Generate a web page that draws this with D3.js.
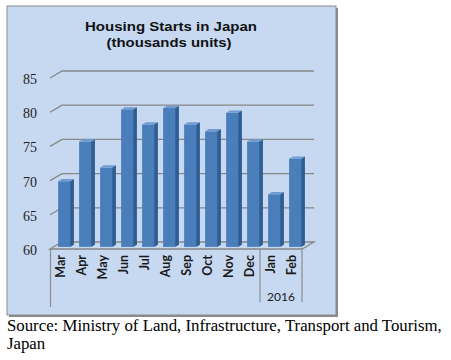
<html>
<head>
<title>Housing Starts</title>
<script src="https://d3js.org/d3.v7.min.js"></script>
<style>
body { margin: 0; background: #fff; }
svg { display: block; }
</style>
</head>
<body>
<svg id="chart" width="451" height="360"></svg>
<script type="text/javascript">
// data
var months = ["Mar", "Apr", "May", "Jun", "Jul", "Aug", "Sep", "Oct", "Nov", "Dec", "Jan", "Feb"];
var starts = [69.6, 75.4, 71.6, 80.1, 77.9, 80.3, 77.9, 76.9, 79.6, 75.4, 67.7, 72.9];
var yTicks = [60, 65, 70, 75, 80, 85];
var yearGroup = ["2016"];

// 3d depth of the plot box (front plane -> back wall)
var DX = 12, DY = -7;
var f1 = 0.3, f2 = 0.62;   // bar front / back as part of the depth

var svg = d3.select("#chart");

// chart box with shadow
svg.append("rect").attr("x", 9).attr("y", 8).attr("width", 329).attr("height", 309).attr("fill", "#8a8a8a");
svg.append("rect").attr("x", 7).attr("y", 6).attr("width", 329).attr("height", 309)
	.attr("fill", "#c6d9f1").attr("stroke", "#8c8c8c").attr("stroke-width", 1);

// title
svg.append("text").attr("x", 171).attr("y", 31).attr("text-anchor", "middle")
	.attr("font-family", "'Liberation Sans', Arial, sans-serif").attr("font-weight", "bold").attr("font-size", 12.5)
	.attr("textLength", 172).attr("lengthAdjust", "spacingAndGlyphs").attr("fill", "#111")
	.text("Housing Starts in Japan");
svg.append("text").attr("x", 169).attr("y", 47).attr("text-anchor", "middle")
	.attr("font-family", "'Liberation Sans', Arial, sans-serif").attr("font-weight", "bold").attr("font-size", 12.5)
	.attr("textLength", 125).attr("lengthAdjust", "spacingAndGlyphs").attr("fill", "#111")
	.text("(thousands units)");

//Scales
var yScale = d3.scaleLinear().domain([60, 85]).range([249, 78]);
var xScale = d3.scaleBand().domain(months).range([50, 302]).paddingInner(0.43).paddingOuter(0.215);
var bw = xScale.bandwidth();
var x0 = xScale.range()[0], x1 = xScale.range()[1];

// gridlines (front slant + back wall line)
var grid = svg.append("g").attr("fill", "none").attr("stroke", "#878787").attr("stroke-width", 1.3);
grid.selectAll("path.grid").data(yTicks.slice(1)).enter().append("path").attr("class", "grid")
	.attr("d", function(d){
		var y = yScale(d);
		return "M" + x0 + "," + y + "L" + (x0 + DX) + "," + (y + DY) + "L" + (x1 + DX) + "," + (y + DY);
	});

// floor
var yf = yScale(60);
grid.append("path")
	.attr("d", "M" + x0 + "," + yf + "L" + x1 + "," + yf + "L" + (x1 + DX) + "," + (yf + DY)
		+ "L" + (x0 + DX) + "," + (yf + DY) + "Z");

// y tick labels
svg.selectAll("text.ytick").data(yTicks).enter().append("text").attr("class", "ytick")
	.attr("x", 37).attr("y", function(d){ return yScale(d) + 6; })
	.attr("text-anchor", "end").attr("font-family", "'Liberation Serif', 'Times New Roman', serif")
	.attr("font-size", 14).attr("fill", "#222")
	.text(function(d){ return d; });

// bars
var ox = DX * f1, oy = DY * f1;
var dx = DX * (f2 - f1), dy = DY * (f2 - f1);
var bars = svg.selectAll("g.bar").data(months).enter().append("g").attr("class", "bar");
bars.append("rect")
	.attr("x", function(d){ return xScale(d) + ox; })
	.attr("y", function(d, i){ return yScale(starts[i]) + oy; })
	.attr("width", bw)
	.attr("height", function(d, i){ return yScale(60) - yScale(starts[i]); })
	.attr("fill", "#4a7ebb");
bars.append("path")
	.attr("fill", "#2e5d94")
	.attr("d", function(d, i){
		var xr = xScale(d) + ox + bw, yt = yScale(starts[i]) + oy, yb = yScale(60) + oy;
		return "M" + xr + "," + yt + "L" + (xr + dx) + "," + (yt + dy) + "L" + (xr + dx) + "," + (yb + dy) + "L" + xr + "," + yb + "Z";
	});
bars.append("path")
	.attr("fill", "#6f9bd2")
	.attr("d", function(d, i){
		var xl = xScale(d) + ox, yt = yScale(starts[i]) + oy;
		return "M" + xl + "," + yt + "L" + (xl + dx) + "," + (yt + dy) + "L" + (xl + bw + dx) + "," + (yt + dy) + "L" + (xl + bw) + "," + yt + "Z";
	});

// category axis: month labels
svg.selectAll("text.month").data(months).enter().append("text").attr("class", "month")
	.attr("transform", function(d){ return "translate(" + (xScale(d) + bw / 2) + ",255) rotate(-90)"; })
	.attr("dy", "0.35em").attr("text-anchor", "end")
	.attr("font-family", "Lato, 'Open Sans', sans-serif").attr("font-weight", "bold").attr("font-size", 12.5)
	.attr("fill", "#1a1a1a")
	.text(function(d){ return d; });

// group separators of the two level axis
var step = xScale.step();
var sepJan = xScale("Jan") - (step - bw) / 2;
var axisLines = svg.append("g").attr("stroke", "#8c8c8c").attr("stroke-width", 1.2);
axisLines.append("line").attr("x1", x0 + 0.5).attr("x2", x0 + 0.5).attr("y1", yf).attr("y2", 307);
axisLines.append("line").attr("x1", sepJan).attr("x2", sepJan).attr("y1", yf).attr("y2", 302);
axisLines.append("line").attr("x1", x1).attr("x2", x1).attr("y1", yf).attr("y2", 302);

svg.selectAll("text.year").data(yearGroup).enter().append("text").attr("class", "year")
	.attr("x", (sepJan + x1) / 2).attr("y", 301).attr("text-anchor", "middle")
	.attr("font-family", "Lato, 'Open Sans', sans-serif").attr("font-size", 12).attr("fill", "#1a1a1a")
	.text(function(d){ return d; });

// source note under the chart
var src = svg.append("text").attr("font-family", "'Liberation Serif', 'Times New Roman', serif")
	.attr("font-size", 16.8).attr("fill", "#000");
src.append("tspan").attr("x", 7).attr("y", 331).text("Source: Ministry of Land, Infrastructure, Transport and Tourism,");
src.append("tspan").attr("x", 7).attr("y", 349).text("Japan");
</script>
</body>
</html>
